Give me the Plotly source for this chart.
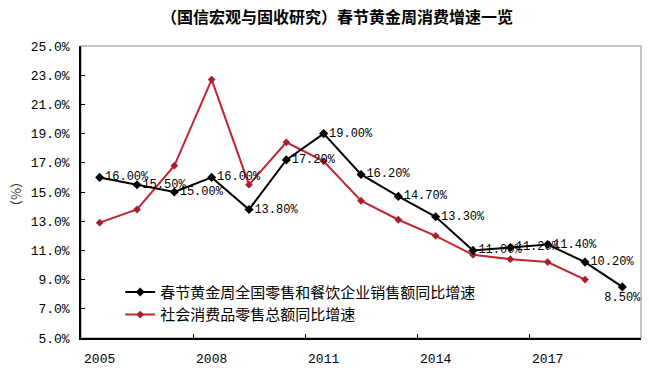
import plotly.graph_objects as go

years = [str(y) for y in range(2005, 2020)]
golden_week = [16.0, 15.5, 15.0, 16.0, 13.8, 17.2, 19.0, 16.2, 14.7, 13.3, 11.0, 11.2, 11.4, 10.2, 8.5]
retail_total = [12.9, 13.8, 16.8, 22.7, 15.5, 18.4, 17.1, 14.4, 13.1, 12.0, 10.7, 10.4, 10.2, 9.0]
black_labels = [f"{v:.2f}%" for v in golden_week]
label_pos = ["middle right"] * 14 + ["bottom center"]

name_black = "春节黄金周全国零售和餐饮企业销售额同比增速"
name_red = "社会消费品零售总额同比增速"
title = "（国信宏观与固收研究）春节黄金周消费增速一览"

mono = "Liberation Mono, DejaVu Sans Mono, monospace"
cjk = "Noto Sans CJK SC, sans-serif"

fig = go.Figure()
fig.add_trace(go.Scatter(
    x=years[:len(retail_total)], y=retail_total, name=name_red, mode="lines+markers",
    line=dict(color="#C0262D", width=2),
    marker=dict(symbol="diamond", size=6, color="#A8202A"),
    cliponaxis=False,
))
fig.add_trace(go.Scatter(
    x=years, y=golden_week, name=name_black, mode="lines+markers+text",
    line=dict(color="#000000", width=2),
    marker=dict(symbol="diamond", size=7, color="#000000"),
    text=black_labels, textposition=label_pos,
    textfont=dict(family=mono, size=12, color="#000000"),
    cliponaxis=False,
))

fig.update_layout(
    width=649, height=378,
    margin=dict(l=81, r=8, t=46, b=40),
    paper_bgcolor="white", plot_bgcolor="white",
    title=dict(text=title, x=337/649, xanchor="center", y=1 - 17/378, yanchor="middle",
               font=dict(family=cjk, size=16, color="#000000", weight="bold")),
    showlegend=True,
    legend=dict(x=0.07, y=0.213, xanchor="left", yanchor="top",
                font=dict(family=cjk, size=15, color="#000000"),
                bgcolor="rgba(0,0,0,0)", itemwidth=30, traceorder="reversed",
                tracegroupgap=0),
    shapes=[dict(type="rect", xref="paper", yref="paper", x0=0, y0=0, x1=1, y1=1,
                 line=dict(color="#888888", width=1), layer="below")],
    annotations=[dict(text="（%）", xref="paper", yref="paper",
                      x=(15 - 81) / 560, y=(338 - 194) / 292, textangle=-90,
                      xanchor="center", yanchor="middle",
                      showarrow=False, font=dict(family=cjk, size=13, color="#333333"))],
)
fig.update_xaxes(
    type="category", dtick=3, tickson="boundaries",
    range=[-0.5, 14.5],
    ticks="inside", ticklen=4, tickcolor="#000000",
    showline=True, linecolor="#000000", linewidth=1.5,
    showgrid=False, zeroline=False, ticklabelstandoff=8,
    tickfont=dict(family=mono, size=13, color="#000000"),
)
fig.update_yaxes(
    range=[5, 25], dtick=2, tick0=5, tickformat=".1f", ticksuffix="%",
    ticks="inside", ticklen=4, tickcolor="#000000",
    showline=True, linecolor="#000000", linewidth=1.5,
    showgrid=False, zeroline=False, ticklabelstandoff=7,
    tickfont=dict(family=mono, size=13, color="#000000"),
)

fig.write_html("out.html", config={"displayModeBar": False},
               post_script="document.body.style.margin='0px';document.body.style.overflow='hidden';")
